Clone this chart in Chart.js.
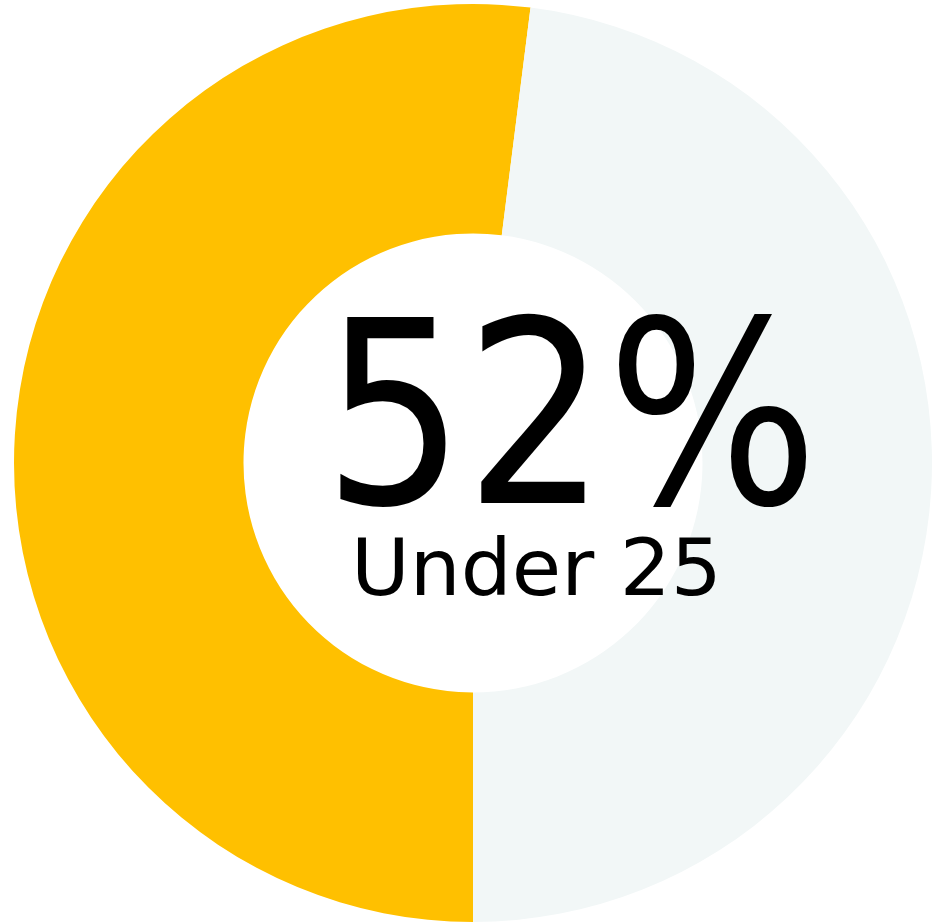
<!DOCTYPE html>
<html>
<head>
<meta charset="utf-8">
<script src="https://cdn.jsdelivr.net/npm/chart.js@4/dist/chart.umd.min.js"></script>
<style>
  html, body { margin: 0; padding: 0; background: #fff; }
  #wrap { width: 946px; height: 922px; }
</style>
</head>
<body>
<div id="wrap"><canvas id="donut" width="946" height="922"></canvas></div>
<script>
var labels = ["Under 25", "25 and over"];
var shares = [52, 48];
var colors = ["#FFC000", "#F2F7F7"];

var bigText = shares[0] + "%";
var smallText = labels[0];

// draw text stretched to fit a box (left, top, right, baseline)
function fitText(ctx, text, font, box) {
  ctx.save();
  ctx.font = font;
  ctx.textAlign = "left";
  ctx.textBaseline = "alphabetic";
  var m = ctx.measureText(text);
  var w = m.actualBoundingBoxLeft + m.actualBoundingBoxRight;
  var h = m.actualBoundingBoxAscent;
  var sx = (box[2] - box[0]) / w;
  var sy = (box[3] - box[1]) / h;
  ctx.translate(box[0], box[3]);
  ctx.scale(sx, sy);
  ctx.fillStyle = "#000";
  ctx.fillText(text, m.actualBoundingBoxLeft, 0);
  ctx.restore();
}

var centerText = {
  id: "centerText",
  afterDraw: function(chart) {
    var ctx = chart.ctx;
    fitText(ctx, bigText, "200px 'DejaVu Sans', sans-serif", [340, 313, 806, 503]);
    fitText(ctx, smallText, "80px 'DejaVu Sans', sans-serif", [357, 535, 715, 595]);
  }
};

new Chart(document.getElementById("donut").getContext("2d"), {
  type: "doughnut",
  data: {
    labels: labels,
    datasets: [{
      data: shares,
      backgroundColor: colors,
      borderWidth: 0
    }]
  },
  options: {
    responsive: false,
    animation: false,
    cutout: "50%",
    rotation: 180,
    layout: { padding: { top: 4 } },
    plugins: {
      legend: { display: false },
      tooltip: { enabled: false }
    }
  },
  plugins: [centerText]
});
</script>
</body>
</html>
